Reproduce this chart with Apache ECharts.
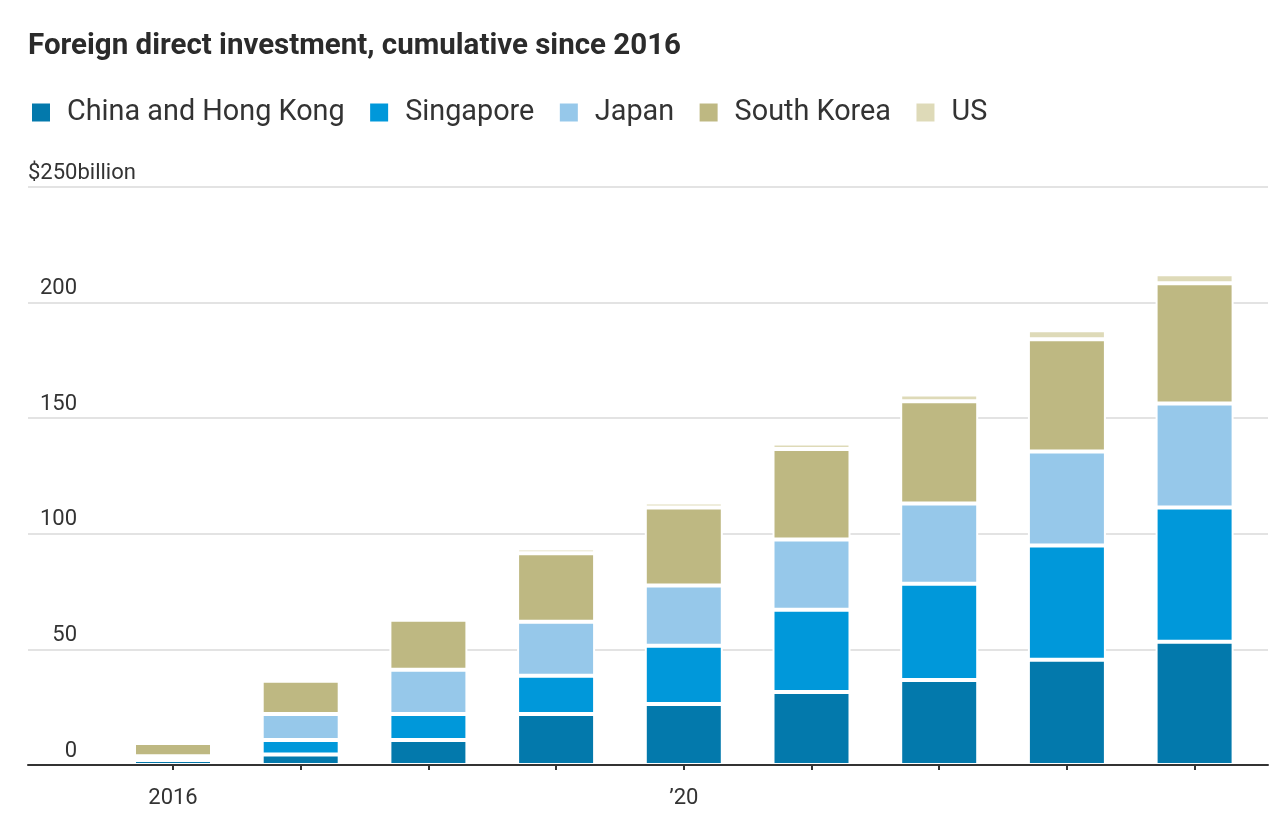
<!DOCTYPE html>
<html>
<head>
<meta charset="utf-8">
<script src="https://cdn.jsdelivr.net/npm/echarts@6/dist/echarts.min.js"></script>
<style>
html,body{margin:0;padding:0;background:#fff;}
#chart{width:1284px;height:832px;}
</style>
</head>
<body>
<div id="chart"></div>
<script>
// ---- data ----
const titleText = 'Foreign direct investment, cumulative since 2016';
const years = ['2016','2017','2018','2019','2020','2021','2022','2023','2024'];
const xTickLabels = {'2016': '2016', '2020': '\u201920'};
const seriesNames = ['China and Hong Kong','Singapore','Japan','South Korea','US'];
const chinaHK   = [2.2, 4.5, 10.8, 22.1, 26.4, 31.6, 36.8, 45.5, 53.3];
const singapore = [0.0, 6.3, 11.3, 16.5, 25.2, 35.6, 41.6, 49.4, 58.1];
const japan     = [1.6, 11.3, 19.1, 23.4, 26.0, 30.3, 34.7, 40.7, 45.0];
const southKorea= [5.7, 14.3, 21.6, 29.6, 33.8, 39.2, 44.2, 48.5, 52.0];
const us        = [0.0, 0.0, 1.3, 2.0, 2.1, 2.4, 3.0, 3.9, 3.9];
const yTicks = [0, 50, 100, 150, 200, 250];
const yTopLabel = '$250billion';

const colors = ['#0379AC', '#0098DA', '#96C8EA', '#BEB882', '#DEDAB8'];
const seriesData = [chinaHK, singapore, japan, southKorea, us];
const FONT = 'Roboto, "Noto Sans", sans-serif';

const chart = echarts.init(document.getElementById('chart'), null, {renderer: 'canvas'});
const yMin = yTicks[0], yMax = yTicks[yTicks.length - 1], yInt = yTicks[1] - yTicks[0];

chart.setOption({
  animation: false,
  backgroundColor: '#fff',
  textStyle: {fontFamily: FONT},
  title: {
    text: titleText,
    left: 23, top: 27,
    textStyle: {fontFamily: FONT, fontSize: 29.5, fontWeight: 'bold', color: '#2b2b2b'}
  },
  legend: {
    left: 25, top: 93,
    itemWidth: 20, itemHeight: 20, itemGap: 23.5,
    icon: 'rect',
    data: seriesNames,
    textStyle: {fontFamily: FONT, fontSize: 28.8, color: '#333', padding: [0, 0, 0, 11]}
  },
  grid: [
    {left: 28, right: 16, top: 187, bottom: 67},
    {left: 109.15, right: 25.55, top: 187, bottom: 67}
  ],
  xAxis: [
    {
      gridIndex: 0, type: 'value', min: 0, max: 1, z: 10,
      axisLine: {show: true, lineStyle: {color: '#333', width: 2}},
      axisTick: {show: false}, axisLabel: {show: false}, splitLine: {show: false}
    },
    {
      gridIndex: 1, type: 'category', data: years, z: 10,
      axisLine: {show: true, lineStyle: {color: '#333', width: 2}},
      axisTick: {show: true, alignWithLabel: true, length: 5, lineStyle: {color: '#333', width: 2}},
      axisLabel: {
        interval: 0, margin: 22, fontSize: 22, color: '#333', fontFamily: FONT,
        formatter: v => xTickLabels[v] || ''
      },
      splitLine: {show: false}
    }
  ],
  yAxis: [
    {
      gridIndex: 0, type: 'value', min: yMin, max: yMax, interval: yInt,
      axisLine: {show: false}, axisTick: {show: false},
      splitLine: {show: true, lineStyle: {color: '#e3e3e3', width: 2}},
      axisLabel: {
        inside: true, margin: 0, align: 'left', verticalAlign: 'bottom',
        padding: [0, 0, 3, 0],
        fontSize: 22, color: '#333', fontFamily: FONT,
        formatter: v => v === yMax ? '{u|' + yTopLabel + '}' : '{n|' + v + '}',
        rich: {
          u: {fontSize: 22, color: '#333', fontFamily: FONT},
          n: {fontSize: 22, color: '#333', fontFamily: FONT, width: 49, align: 'right'}
        }
      }
    },
    {
      gridIndex: 1, type: 'value', min: yMin, max: yMax, interval: yInt,
      show: false
    }
  ],
  series: seriesNames.map((name, i) => ({
    name: name,
    type: 'bar',
    stack: 'total',
    xAxisIndex: 1, yAxisIndex: 1,
    barWidth: 78,
    data: seriesData[i],
    itemStyle: {color: colors[i], borderColor: '#fff', borderWidth: 2},
    emphasis: {disabled: true}
  }))
});
</script>
</body>
</html>
